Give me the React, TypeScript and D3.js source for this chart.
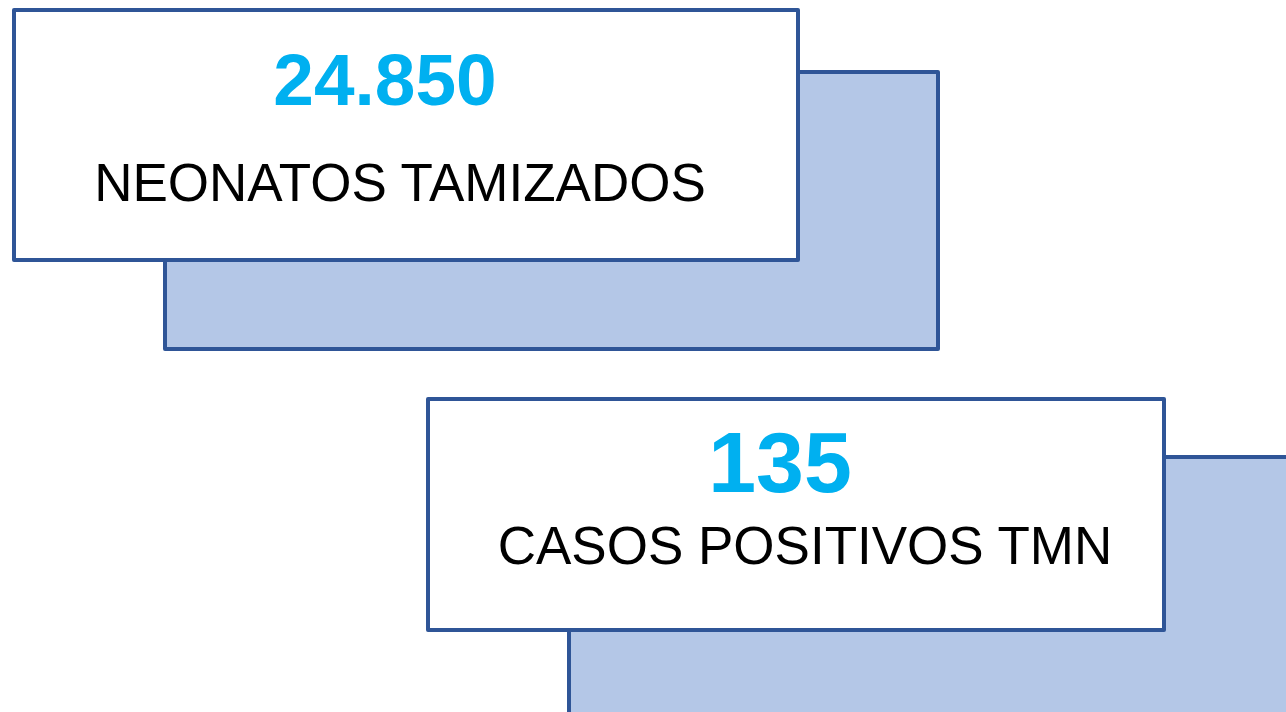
import React from "react";
import * as d3 from "d3";

const values = [24850, 135];
const labels = ["NEONATOS TAMIZADOS", "CASOS POSITIVOS TMN"];

const W = 1286;
const H = 712;

const fmt = (v: number) => d3.format(",")(v).replace(/,/g, ".");

const layouts = [
  {
    front: { x: 14, y: 10, w: 784, h: 250 },
    back: { x: 165, y: 72, w: 773, h: 277 },
    num: { x: 385, y: 105, size: 73 },
    lab: { x: 400, y: 201, size: 53 },
  },
  {
    front: { x: 428, y: 399, w: 736, h: 231 },
    back: { x: 569, y: 457, w: 773, h: 277 },
    num: { x: 780, y: 492, size: 86 },
    lab: { x: 805, y: 564, size: 53 },
  },
];

export default function App() {
  const stroke = "#2F5597";
  return (
    <svg
      width={W}
      height={H}
      style={{ position: "absolute", left: 0, top: 0, background: "#fff" }}
      fontFamily="'Liberation Sans', Arial, sans-serif"
    >
      {values.map((v, i) => {
        const L = layouts[i];
        return (
          <g key={i}>
            <rect x={L.back.x} y={L.back.y} width={L.back.w} height={L.back.h} fill="#B4C7E7" stroke={stroke} strokeWidth={4} strokeLinejoin="round" />
            <rect x={L.front.x} y={L.front.y} width={L.front.w} height={L.front.h} fill="#fff" stroke={stroke} strokeWidth={4} strokeLinejoin="round" />
            <text x={L.num.x} y={L.num.y} textAnchor="middle" fontSize={L.num.size} fontWeight="bold" fill="#00B0F0">
              {fmt(v)}
            </text>
            <text x={L.lab.x} y={L.lab.y} textAnchor="middle" fontSize={L.lab.size} fill="#000">
              {labels[i]}
            </text>
          </g>
        );
      })}
    </svg>
  );
}
